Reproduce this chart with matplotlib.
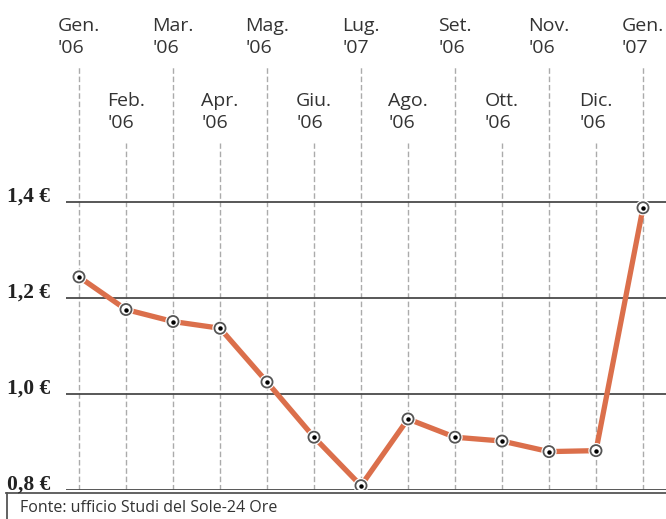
import matplotlib
matplotlib.use("Agg")
import matplotlib.pyplot as plt
import matplotlib.patheffects as pe

months = ["Gen.", "Feb.", "Mar.", "Apr.", "Mag.", "Giu.", "Lug.",
          "Ago.", "Set.", "Ott.", "Nov.", "Dic.", "Gen."]
years = ["'06", "'06", "'06", "'06", "'06", "'06", "'07",
         "'06", "'06", "'06", "'06", "'06", "'07"]
prices = [1.244, 1.176, 1.151, 1.137, 1.025, 0.910, 0.809,
          0.948, 0.910, 0.902, 0.880, 0.882, 1.388]
yticks = [0.8, 1.0, 1.2, 1.4]
ylabels = ["0,8 €", "1,0 €", "1,2 €", "1,4 €"]
source = "Fonte: ufficio Studi del Sole-24 Ore"

W, H = 666, 519
fig = plt.figure(figsize=(W / 100, H / 100), dpi=100)
fig.patch.set_facecolor("white")

def fx(px):
    return px / W

def fy(py):
    return 1 - py / H

ax = fig.add_axes([fx(66), fy(490), fx(600), (490 - 67) / H])
ax.set_xlim(-13 / 47, 12 + 23 / 47)
ax.set_ylim(0.8, 0.8 + 423 / 480)
ax.axis("off")

x = list(range(len(prices)))

# vertical dashed lines
for i in x:
    top = 1.0 if i % 2 == 0 else (490 - 143) / 423
    ax.axvline(i, ymin=0, ymax=top, color="#ababab", lw=1, ls=(0, (4, 2)), zorder=1)

# horizontal grid lines
for v in yticks:
    ax.axhline(v, color="#4a4a4a", lw=1.3, zorder=2)

ax.plot(x, prices, color="#db6f4b", lw=3.8, solid_capstyle="round", zorder=3)
ax.plot(x, prices, ls="none", marker="o", ms=8, mfc="white", mec="#555555",
        mew=1.3, zorder=4,
        path_effects=[pe.Stroke(linewidth=3, foreground="white"), pe.Normal()])
ax.plot(x, prices, ls="none", marker="o", ms=2.2, mfc="black", mec="black", zorder=5)

# month labels at top
for i in x:
    px = 79 + 47 * i
    ty = 17 if i % 2 == 0 else 92
    fig.text(fx(px), fy(ty), months[i] + "\n" + years[i], ha="center", va="top",
             multialignment="left", fontsize=14, family="Open Sans",
             color="#333333", linespacing=1.3)

# y labels
for v, lab in zip(yticks, ylabels):
    py = 490 - (v - 0.8) * 480
    fig.text(fx(7), fy(py), lab, ha="left", va="baseline", fontsize=15.5,
             family="Liberation Serif", weight="bold", color="#222222")

# source box
fig.add_artist(plt.Line2D([fx(6), 1], [fy(492.5), fy(492.5)], color="#555555", lw=1.3))
fig.add_artist(plt.Line2D([fx(7), fx(7)], [fy(492.5), 0], color="#555555", lw=1.3))
fig.text(fx(20), fy(508), source, ha="left", va="center", fontsize=11.5,
         family="Open Sans", color="#333333")

fig.savefig("out.png", dpi=100)
